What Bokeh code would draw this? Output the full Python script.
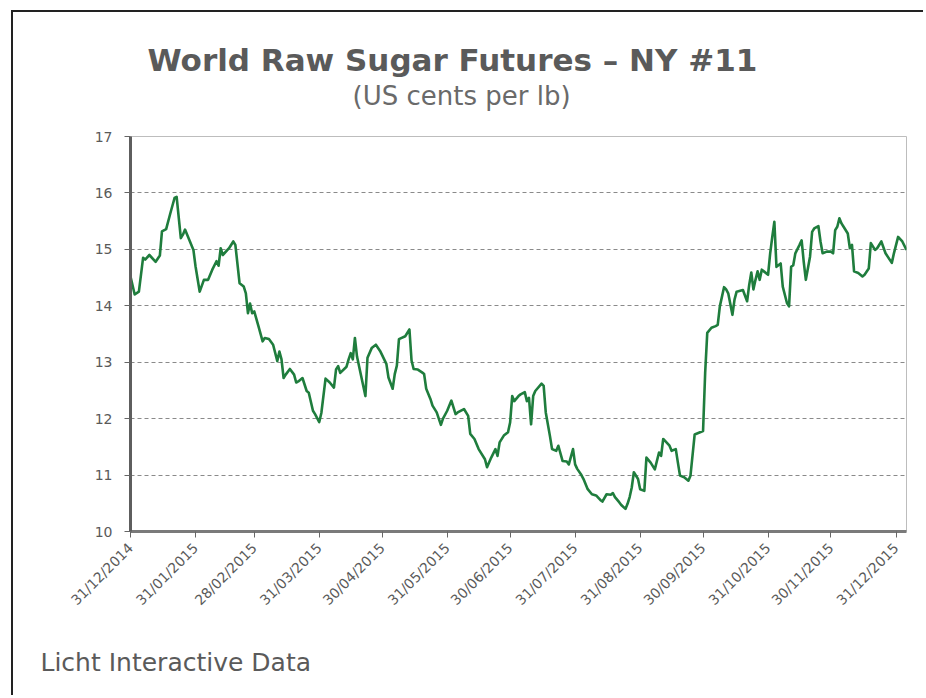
import math
from datetime import datetime, timedelta
from bokeh.plotting import figure
from bokeh.models import Range1d, FixedTicker, DatetimeTickFormatter, Title, ColumnDataSource
from bokeh.embed import file_html
from bokeh.resources import INLINE

title_text = "World Raw Sugar Futures \u2013 NY #11"
subtitle_text = "(US cents per lb)"
footer_text = "Licht Interactive Data"

start_date = "2014-12-31"
day_offsets = [0,2,4,6,7,9,12,14,15,17,19,21,22,24,25,26,28,30,31,33,35,37,39,41,42,43,44,47,49,50,
               52,54,55,56,57,58,59,61,63,64,66,68,70,71,72,73,74,76,78,79,80,82,84,85,87,88,90,91,93,95,
               97,98,99,100,103,104,105,106,107,108,110,112,113,115,117,119,122,123,125,126,127,128,131,133,134,135,137,139,140,141,
               143,144,146,148,149,151,153,155,156,159,161,162,164,166,169,170,172,174,175,176,178,180,181,182,183,185,186,188,189,190,
               191,192,193,196,197,198,200,201,203,204,206,208,209,211,212,213,215,216,218,220,222,224,225,227,229,230,231,233,234,236,
               237,238,239,240,242,243,245,246,248,250,252,253,254,255,257,258,260,261,262,264,266,267,269,271,273,274,275,277,279,280,
               281,283,284,285,287,288,289,292,294,295,296,297,298,299,300,301,302,304,305,306,307,308,310,311,313,314,315,316,317,319,
               320,321,322,324,325,326,328,329,330,332,334,335,336,337,338,339,340,342,343,344,345,347,349,350,352,353,355,356,358,360,
               363,364,366,368,370]
prices = [14.52,14.20,14.25,14.85,14.82,14.90,14.78,14.89,15.32,15.36,15.64,15.91,15.93,15.20,15.26,15.35,15.17,14.99,14.70,14.25,14.46,14.46,14.64,14.79,14.71,15.02,14.90,15.02,15.14,15.08,
          14.40,14.34,14.22,13.87,14.04,13.87,13.90,13.64,13.37,13.43,13.41,13.31,13.02,13.19,13.05,12.72,12.78,12.88,12.78,12.64,12.66,12.72,12.49,12.46,12.14,12.08,11.94,12.10,12.71,12.64,
          12.55,12.87,12.93,12.81,12.92,13.05,13.16,13.05,13.43,13.10,12.75,12.40,13.08,13.25,13.31,13.20,12.97,12.73,12.53,12.79,12.94,13.41,13.46,13.58,13.03,12.88,12.87,12.82,12.79,12.53,
          12.35,12.23,12.11,11.89,12.00,12.14,12.32,12.08,12.11,12.17,12.05,11.73,11.64,11.46,11.28,11.14,11.31,11.46,11.34,11.58,11.70,11.76,11.93,12.40,12.31,12.40,12.43,12.47,12.31,12.37,
          11.90,12.40,12.49,12.62,12.58,12.11,11.69,11.46,11.43,11.52,11.25,11.24,11.19,11.46,11.19,11.11,11.00,10.93,10.75,10.66,10.64,10.56,10.53,10.66,10.65,10.68,10.61,10.52,10.47,10.40,
          10.49,10.61,10.78,11.05,10.93,10.75,10.72,11.31,11.22,11.10,11.40,11.34,11.64,11.60,11.52,11.43,11.46,11.22,10.99,10.96,10.90,10.99,11.72,11.75,11.78,12.81,13.52,13.61,13.64,13.66,
          13.99,14.33,14.29,14.22,13.84,14.11,14.25,14.28,14.08,14.37,14.59,14.29,14.46,14.61,14.46,14.64,14.61,14.55,14.93,15.22,15.49,14.69,14.75,14.34,14.05,13.99,14.69,14.72,14.93,15.08,
          15.16,14.78,14.46,14.87,15.31,15.37,15.41,15.14,14.93,14.96,14.96,14.93,15.34,15.40,15.55,15.46,15.40,15.28,15.02,15.08,14.61,14.58,14.52,14.55,14.66,15.11,14.99,15.02,15.14,14.93,
          14.76,14.93,15.22,15.14,14.99]

x_tick_dates = ["2014-12-31", "2015-01-31", "2015-02-28", "2015-03-31", "2015-04-30", "2015-05-31",
                "2015-06-30", "2015-07-31", "2015-08-31", "2015-09-30", "2015-10-31", "2015-11-30",
                "2015-12-31"]
y_ticks = [10, 11, 12, 13, 14, 15, 16, 17]

assert len(day_offsets) == len(prices), (len(day_offsets), len(prices))

base = datetime.strptime(start_date, "%Y-%m-%d")
dates = [base + timedelta(days=d) for d in day_offsets]
epoch = datetime(1970, 1, 1)
tick_ms = [(datetime.strptime(s, "%Y-%m-%d") - epoch).total_seconds() * 1000 for s in x_tick_dates]

source = ColumnDataSource(data=dict(date=dates, price=prices))

FONT = "DejaVu Sans"
TEXT_COLOR = "#5a5a5a"

p = figure(width=912, height=685, x_axis_type="datetime", output_backend="svg",
           toolbar_location=None, tools="",
           x_range=Range1d(start=dates[0], end=dates[-1]),
           y_range=Range1d(start=y_ticks[0], end=y_ticks[-1]),
           min_border_left=117, min_border_right=19, min_border_top=124, min_border_bottom=166)
p.styles = {"margin-left": "11px", "margin-top": "10px",
            "border-left": "2px solid #222222", "border-top": "2px solid #222222"}
p.background_fill_color = "white"
p.border_fill_color = "white"
p.outline_line_color = "#bdbdbd"
p.outline_line_width = 1

p.line("date", "price", source=source, line_color="#1f7d3d", line_width=2.6, line_join="round")

# axes
p.xaxis.ticker = FixedTicker(ticks=tick_ms)
fmt = "%d/%m/%Y"
p.xaxis.formatter = DatetimeTickFormatter(milliseconds=fmt, seconds=fmt, minsec=fmt, minutes=fmt,
                                          hourmin=fmt, hours=fmt, days=fmt, months=fmt, years=fmt)
p.xaxis.major_label_orientation = math.pi / 4
p.yaxis.ticker = FixedTicker(ticks=y_ticks)

for ax in (p.xaxis, p.yaxis):
    ax.minor_tick_line_color = None
    ax.major_tick_in = 0
    ax.major_tick_out = 6
    ax.major_tick_line_color = "#666666"
    ax.major_label_text_font = FONT
    ax.major_label_text_font_size = "14px"
    ax.major_label_text_color = TEXT_COLOR
    ax.axis_line_width = 3

p.yaxis.axis_line_color = "#5e5e5e"
p.xaxis.axis_line_color = "#7a7a7a"
p.yaxis.major_label_standoff = 12
p.xaxis.major_label_standoff = 8

p.xgrid.grid_line_color = None
p.ygrid.grid_line_color = "#8a8a8a"
p.ygrid.grid_line_dash = "4 3"
p.ygrid.grid_line_width = 1

# titles: the first one added "above" sits closest to the frame; blank titles act as spacers
p.add_layout(Title(text=" ", standoff=10, text_font=FONT, text_font_size="10px"), "above")
p.add_layout(Title(text=subtitle_text, align="left", offset=222, standoff=6,
                   text_font=FONT, text_font_size="26px", text_font_style="normal",
                   text_color="#6a6a6a"), "above")
p.add_layout(Title(text=title_text, align="left", offset=17, standoff=-4,
                   text_font=FONT, text_font_size="31px", text_font_style="bold",
                   text_color=TEXT_COLOR), "above")
p.add_layout(Title(text=" ", standoff=16, text_font=FONT, text_font_size="10px"), "below")
p.add_layout(Title(text=footer_text, align="left", offset=-90, standoff=0,
                   text_font=FONT, text_font_size="25px", text_font_style="normal",
                   text_color=TEXT_COLOR), "below")

open("out.html", "w").write(file_html(p, INLINE))
